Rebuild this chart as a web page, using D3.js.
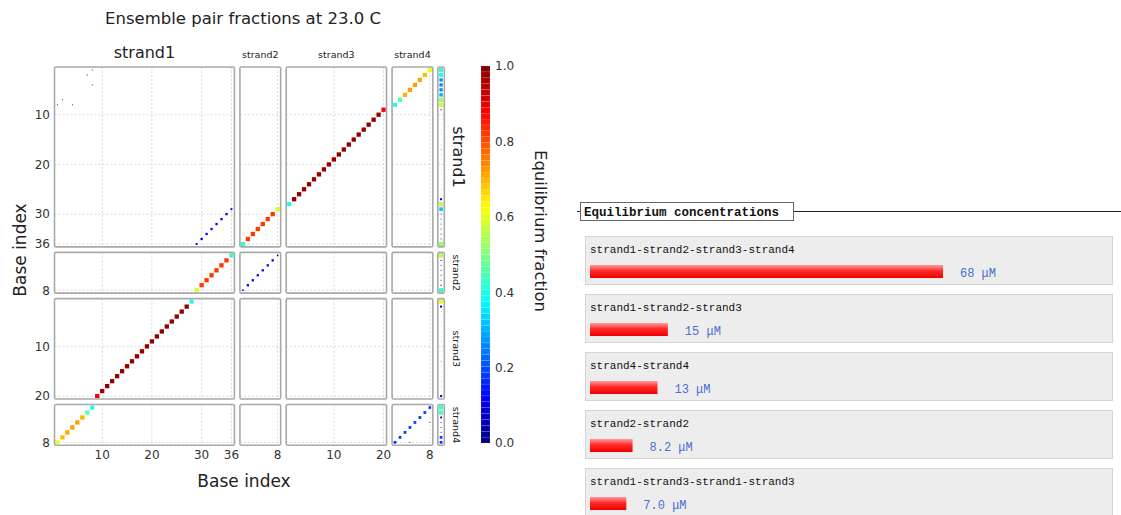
<!DOCTYPE html>
<html lang="en">
<head>
    <meta charset="UTF-8">
    <title>Ensemble pair fractions</title>
    <style>
        body {
            margin: 0;
            padding: 0;
            background: #fff;
        }
        svg {
            display: block;
            font-family: "DejaVu Sans", sans-serif;
        }
        .grid {
            stroke: #cfcfcf;
            stroke-dasharray: 2,2;
            stroke-width: 0.8;
        }
        .frame {
            fill: none;
            stroke: #a9a9a9;
            stroke-width: 1.6;
        }
        .tick {
            font-size: 12px;
            fill: #333;
        }
        .mono {
            font-family: "Liberation Mono", "DejaVu Sans Mono", monospace;
        }
    </style>
</head>
<body>
    <div id="chart"></div>

    <script src="https://d3js.org/d3.v7.min.js"></script>
    <script>
        // strands
        const strandNames = ["strand1", "strand2", "strand3", "strand4"];
        const strandLengths = [36, 8, 20, 8];
        const strandTicks = [[10, 20, 30, 36], [8], [10, 20], [8]];

        // pair fractions [base in first strand, base in second strand, fraction]
        const pairs11 = [[1, 8, 0.02], [2, 7, 0.02], [4, 8, 0.02],
            [29, 36, 0.09], [30, 35, 0.13], [31, 34, 0.13], [32, 33, 0.13]];
        const pairs12 = [[36, 1, 0.42], [35, 2, 0.82], [34, 3, 0.82], [33, 4, 0.82],
            [32, 5, 0.82], [31, 6, 0.82], [30, 7, 0.82], [29, 8, 0.58]];
        const pairs13 = [[28, 1, 0.40], [27, 2, 0.98], [26, 3, 0.98], [25, 4, 0.98], [24, 5, 0.98],
            [23, 6, 0.98], [22, 7, 0.98], [21, 8, 0.98], [20, 9, 0.98], [19, 10, 0.98],
            [18, 11, 0.98], [17, 12, 0.98], [16, 13, 0.98], [15, 14, 0.98], [14, 15, 0.98],
            [13, 16, 0.98], [12, 17, 0.98], [11, 18, 0.98], [10, 19, 0.97], [9, 20, 0.88]];
        const pairs14 = [[8, 1, 0.40], [7, 2, 0.46], [6, 3, 0.70], [5, 4, 0.72],
            [4, 5, 0.72], [3, 6, 0.71], [2, 7, 0.69], [1, 8, 0.60]];
        const pairs22 = [[1, 8, 0.06], [2, 7, 0.13], [3, 6, 0.13], [4, 5, 0.13]];
        const pairs44 = [[1, 8, 0.17], [2, 7, 0.19], [3, 6, 0.19], [4, 5, 0.19], [4, 8, 0.02]];

        // unpaired fractions per base
        const unpaired1 = [0.42, 0.40, 0.27, 0.26, 0.26, 0.30, 0.52, 0.58, 0.03, 0.003,
            0.003, 0.003, 0.003, 0.003, 0.003, 0.003, 0.01, 0.003, 0.003, 0.003,
            0.003, 0.003, 0.003, 0.003, 0.003, 0.003, 0.10, 0.56, 0.32, 0.02,
            0.02, 0.02, 0.02, 0.02, 0.02, 0.52];
        const unpaired2 = [0.55, 0.03, 0.02, 0.02, 0.02, 0.02, 0.03, 0.42];
        const unpaired3 = [0.60, 0.10, 0.003, 0.003, 0.003, 0.003, 0.003, 0.003, 0.003, 0.003,
            0.003, 0.003, 0.01, 0.003, 0.003, 0.003, 0.003, 0.003, 0.003, 0.10];
        const unpaired4 = [0.42, 0.45, 0.08, 0.02, 0.02, 0.02, 0.18, 0.18];

        const colorTicks = [0, 0.2, 0.4, 0.6, 0.8, 1.0];

        // equilibrium concentrations (uM)
        const complexNames = ["strand1-strand2-strand3-strand4", "strand1-strand2-strand3",
            "strand4-strand4", "strand2-strand2", "strand1-strand3-strand1-strand3"];
        const complexConc = [68, 15, 13, 8.2, 7.0];
        const concLabels = ["68", "15", "13", "8.2", "7.0"];

        const pairBlocks = [
            { a: 0, b: 0, data: pairs11 }, { a: 0, b: 1, data: pairs12 },
            { a: 0, b: 2, data: pairs13 }, { a: 0, b: 3, data: pairs14 },
            { a: 1, b: 1, data: pairs22 }, { a: 3, b: 3, data: pairs44 }
        ];
        const unpaired = [unpaired1, unpaired2, unpaired3, unpaired4];

        const W = 1121, H = 515;
        const svg = d3.select("#chart").append("svg")
            .attr("width", W).attr("height", H);

        const jet = d3.scaleLinear()
            .domain([0, 0.125, 0.375, 0.625, 0.875, 1])
            .range(["#00007f", "#0000ff", "#00ffff", "#ffff00", "#ff0000", "#7f0000"])
            .clamp(true);
        const dotSize = d3.scaleSqrt().domain([0, 0.45]).range([0, 4.3]).clamp(true);

        // panel layout
        const unit = 4.97, gap = 5.5, plotLeft = 54.5, plotTop = 67;
        const panelSize = strandLengths.map(L => (L + 0.2) * unit);
        const xStart = [], yStart = [];
        let cx = plotLeft, cy = plotTop;
        strandLengths.forEach((L, i) => {
            xStart.push(cx); yStart.push(cy);
            cx += panelSize[i] + gap; cy += panelSize[i] + gap;
        });
        const xScales = strandLengths.map((L, i) => d3.scaleLinear()
            .domain([0.4, L + 0.6]).range([xStart[i], xStart[i] + panelSize[i]]));
        const yScales = strandLengths.map((L, i) => d3.scaleLinear()
            .domain([0.4, L + 0.6]).range([yStart[i], yStart[i] + panelSize[i]]));
        const upX = cx - 0.5, upW = 6.5;

        const plot = svg.append("g");

        // panels with grid
        strandLengths.forEach((_, r) => {
            strandLengths.forEach((_, c) => {
                const g = plot.append("g");
                g.append("rect").attr("x", xStart[c]).attr("y", yStart[r])
                    .attr("width", panelSize[c]).attr("height", panelSize[r]).attr("fill", "#fff");
                strandTicks[c].forEach(t => {
                    g.append("line").attr("class", "grid")
                        .attr("x1", xScales[c](t)).attr("x2", xScales[c](t))
                        .attr("y1", yStart[r]).attr("y2", yStart[r] + panelSize[r]);
                });
                strandTicks[r].forEach(t => {
                    g.append("line").attr("class", "grid")
                        .attr("x1", xStart[c]).attr("x2", xStart[c] + panelSize[c])
                        .attr("y1", yScales[r](t)).attr("y2", yScales[r](t));
                });
            });
            // unpaired column grid
            strandTicks[r].forEach(t => {
                plot.append("line").attr("class", "grid")
                    .attr("x1", upX).attr("x2", upX + upW)
                    .attr("y1", yScales[r](t)).attr("y2", yScales[r](t));
            });
        });

        // pair dots (mirrored)
        const dots = [];
        pairBlocks.forEach(bl => {
            bl.data.forEach(([i, j, p]) => {
                dots.push({ r: bl.a, c: bl.b, x: j, y: i, p });
                dots.push({ r: bl.b, c: bl.a, x: i, y: j, p });
            });
        });
        plot.selectAll(".dot").data(dots).enter().append("rect")
            .attr("class", "dot")
            .attr("x", d => xScales[d.c](d.x) - dotSize(d.p) / 2)
            .attr("y", d => yScales[d.r](d.y) - dotSize(d.p) / 2)
            .attr("width", d => dotSize(d.p))
            .attr("height", d => dotSize(d.p))
            .attr("fill", d => jet(d.p));

        // unpaired dots
        unpaired.forEach((arr, r) => {
            plot.selectAll(".up" + r).data(arr).enter().append("rect")
                .attr("x", (p) => upX + upW / 2 - dotSize(p) / 2)
                .attr("y", (p, k) => yScales[r](k + 1) - dotSize(p) / 2)
                .attr("width", p => dotSize(p))
                .attr("height", p => dotSize(p))
                .attr("fill", p => jet(p));
        });

        // frames
        strandLengths.forEach((_, r) => {
            strandLengths.forEach((_, c) => {
                plot.append("rect").attr("class", "frame")
                    .attr("x", xStart[c]).attr("y", yStart[r]).attr("rx", 1.5)
                    .attr("width", panelSize[c]).attr("height", panelSize[r]);
            });
            plot.append("rect").attr("class", "frame")
                .attr("x", upX).attr("y", yStart[r]).attr("rx", 1.5)
                .attr("width", upW).attr("height", panelSize[r]);
        });

        // tick labels
        strandTicks.forEach((ticks, i) => {
            ticks.forEach(t => {
                svg.append("text").attr("class", "tick")
                    .attr("x", 50).attr("y", yScales[i](t)).attr("dy", "0.36em")
                    .attr("text-anchor", "end").text(t);
                svg.append("text").attr("class", "tick")
                    .attr("x", xScales[i](t)).attr("y", 459)
                    .attr("text-anchor", "middle").text(t);
            });
        });

        // strand labels
        strandNames.forEach((name, i) => {
            const big = i === 0;
            svg.append("text")
                .attr("x", xStart[i] + panelSize[i] / 2).attr("y", 58)
                .attr("text-anchor", "middle")
                .style("font-size", big ? "16px" : "9.5px").style("fill", "#222")
                .text(name);
            const yc = yStart[i] + panelSize[i] / 2;
            svg.append("text")
                .attr("transform", `translate(453,${yc}) rotate(90)`)
                .attr("text-anchor", "middle")
                .style("font-size", big ? "16px" : "9.5px").style("fill", "#222")
                .text(name);
        });

        // titles
        svg.append("text").attr("x", 243).attr("y", 24).attr("text-anchor", "middle")
            .style("font-size", "16.5px").style("fill", "#222")
            .text("Ensemble pair fractions at 23.0 C");
        svg.append("text").attr("x", 244).attr("y", 487).attr("text-anchor", "middle")
            .style("font-size", "17px").style("fill", "#222").text("Base index");
        svg.append("text").attr("transform", "translate(26,250) rotate(-90)")
            .attr("text-anchor", "middle")
            .style("font-size", "17px").style("fill", "#222").text("Base index");

        // colorbar
        const cb = d3.scaleLinear().domain([0, 1]).range([443, 66]);
        const nBands = 64;
        const bands = d3.range(nBands);
        svg.selectAll(".band").data(bands).enter().append("rect")
            .attr("x", 481).attr("width", 9)
            .attr("y", k => cb((k + 1) / nBands))
            .attr("height", k => cb(k / nBands) - cb((k + 1) / nBands))
            .attr("fill", k => jet((k + 0.5) / nBands))
            .attr("stroke", "rgba(255,255,255,0.25)").attr("stroke-width", 0.4);
        svg.selectAll(".cbt").data(colorTicks).enter().append("text")
            .attr("class", "tick")
            .attr("x", 495).attr("y", d => cb(d)).attr("dy", "0.36em")
            .text(d => d.toFixed(1));
        svg.append("text").attr("transform", "translate(535,231) rotate(90)")
            .attr("text-anchor", "middle")
            .style("font-size", "16.5px").style("fill", "#222").text("Equilibrium fraction");

        // concentrations panel
        const defs = svg.append("defs");
        const grad = defs.append("linearGradient").attr("id", "barGrad")
            .attr("x1", 0).attr("y1", 0).attr("x2", 0).attr("y2", 1);
        grad.append("stop").attr("offset", "0%").attr("stop-color", "#ff9c9c");
        grad.append("stop").attr("offset", "45%").attr("stop-color", "#ff2a2a");
        grad.append("stop").attr("offset", "100%").attr("stop-color", "#f00000");

        svg.append("line").attr("x1", 577).attr("x2", W).attr("y1", 211.5).attr("y2", 211.5)
            .attr("stroke", "#222").attr("stroke-width", 1);
        svg.append("rect").attr("x", 580.5).attr("y", 202.5).attr("width", 213).attr("height", 18)
            .attr("fill", "#fff").attr("stroke", "#666");
        svg.append("text").attr("class", "mono").attr("x", 584).attr("y", 216)
            .style("font-size", "12.5px").style("font-weight", "bold").style("fill", "#111")
            .text("Equilibrium concentrations");

        const barX = d3.scaleLinear().domain([0, 68]).range([0, 353]);
        const rows = svg.selectAll(".conc").data(complexNames).enter().append("g")
            .attr("transform", (d, i) => `translate(585,${236 + i * 58})`);
        rows.append("rect").attr("x", 0.5).attr("y", 0.5).attr("width", 527).attr("height", 48)
            .attr("fill", "#ededed").attr("stroke", "#d4d4d4");
        rows.append("text").attr("class", "mono").attr("x", 5).attr("y", 17)
            .style("font-size", "11px").style("fill", "#111").text(d => d);
        rows.append("rect").attr("x", 5).attr("y", 29).attr("height", 13)
            .attr("width", (d, i) => barX(complexConc[i]))
            .attr("fill", "url(#barGrad)");
        rows.append("text").attr("class", "mono")
            .attr("x", (d, i) => 5 + barX(complexConc[i]) + 17).attr("y", 41)
            .style("font-size", "12px").style("fill", "#4b6fd4")
            .text((d, i) => concLabels[i] + " \u03bcM");
    </script>
</body>
</html>
